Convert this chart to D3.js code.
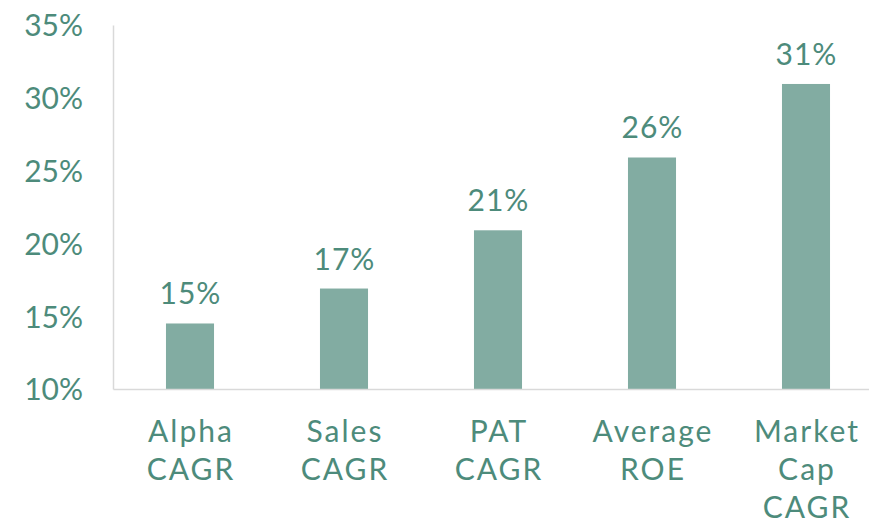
<html>
<head>
<script src="https://d3js.org/d3.v7.min.js"></script>
<style>
  body { margin: 0; background: #fff; }
</style>
</head>
<body>
<div id="chart"></div>
<script>
var width = 869;
var height = 521;
var margin = {top: 25, right: -14, bottom: 132, left: 113};

var categories = ["Alpha CAGR", "Sales CAGR", "PAT CAGR", "Average ROE", "Market Cap CAGR"];
var categoryLines = [["Alpha", "CAGR"], ["Sales", "CAGR"], ["PAT", "CAGR"], ["Average", "ROE"], ["Market", "Cap", "CAGR"]];
var values = [14.5, 16.9, 20.9, 25.9, 30.95];
var valueLabels = ["15%", "17%", "21%", "26%", "31%"];
var yTicks = [10, 15, 20, 25, 30, 35];

var textColor = "#4d8b7b";
var barColor = "#82aca2";
var font = "Lato, 'Noto Sans', sans-serif";

var svg = d3.select("#chart").append("svg")
    .attr("width", width)
    .attr("height", height);

var x = d3.scaleBand()
    .domain(categories)
    .range([margin.left, width - margin.right])
    .paddingInner(0.688)
    .paddingOuter(0.344);

var y = d3.scaleLinear()
    .domain([10, 35])
    .range([height - margin.bottom, margin.top]);

// y axis
var yAxis = svg.append("g")
    .attr("transform", "translate(" + margin.left + ",0)")
    .call(d3.axisLeft(y).tickValues(yTicks).tickSize(0).tickPadding(30)
        .tickFormat(function(d) { return d + "%"; }));
yAxis.select(".domain").attr("stroke", "#d9d9d9").attr("stroke-width", 1.5);
yAxis.selectAll("text")
    .attr("fill", textColor)
    .attr("font-family", font)
    .attr("font-size", 30)
    .attr("dy", "0.36em");

// bars
svg.selectAll(".bar")
    .data(values)
    .enter().append("rect")
    .attr("class", "bar")
    .attr("x", function(d, i) { return x(categories[i]); })
    .attr("y", function(d) { return y(d); })
    .attr("width", x.bandwidth())
    .attr("height", function(d) { return y(10) - y(d); })
    .attr("fill", barColor);

// value labels
svg.selectAll(".val")
    .data(values)
    .enter().append("text")
    .attr("class", "val")
    .attr("x", function(d, i) { return x(categories[i]) + x.bandwidth() / 2 + 0.5; })
    .attr("y", function(d) { return y(d) - 19; })
    .attr("text-anchor", "middle")
    .attr("fill", textColor)
    .attr("font-family", font)
    .attr("font-size", 30)
    .attr("letter-spacing", 1)
    .text(function(d, i) { return valueLabels[i]; });

// x axis
var xAxis = svg.append("g")
    .attr("transform", "translate(0," + y(10) + ")")
    .call(d3.axisBottom(x).tickSize(0).tickFormat(""));
xAxis.select(".domain").attr("stroke", "#d9d9d9").attr("stroke-width", 1.5);

var cats = svg.selectAll(".cat")
    .data(categories)
    .enter().append("text")
    .attr("class", "cat")
    .attr("text-anchor", "middle")
    .attr("fill", textColor)
    .attr("font-family", font)
    .attr("font-size", 30)
    .attr("letter-spacing", 2);

cats.selectAll("tspan")
    .data(function(d, i) { return categoryLines[i].map(function(l) { return {cat: d, line: l}; }); })
    .enter().append("tspan")
    .attr("x", function(d) { return x(d.cat) + x.bandwidth() / 2 + 1; })
    .attr("y", function(d, j) { return y(10) + 53 + j * 38; })
    .text(function(d) { return d.line; });
</script>
</body>
</html>
